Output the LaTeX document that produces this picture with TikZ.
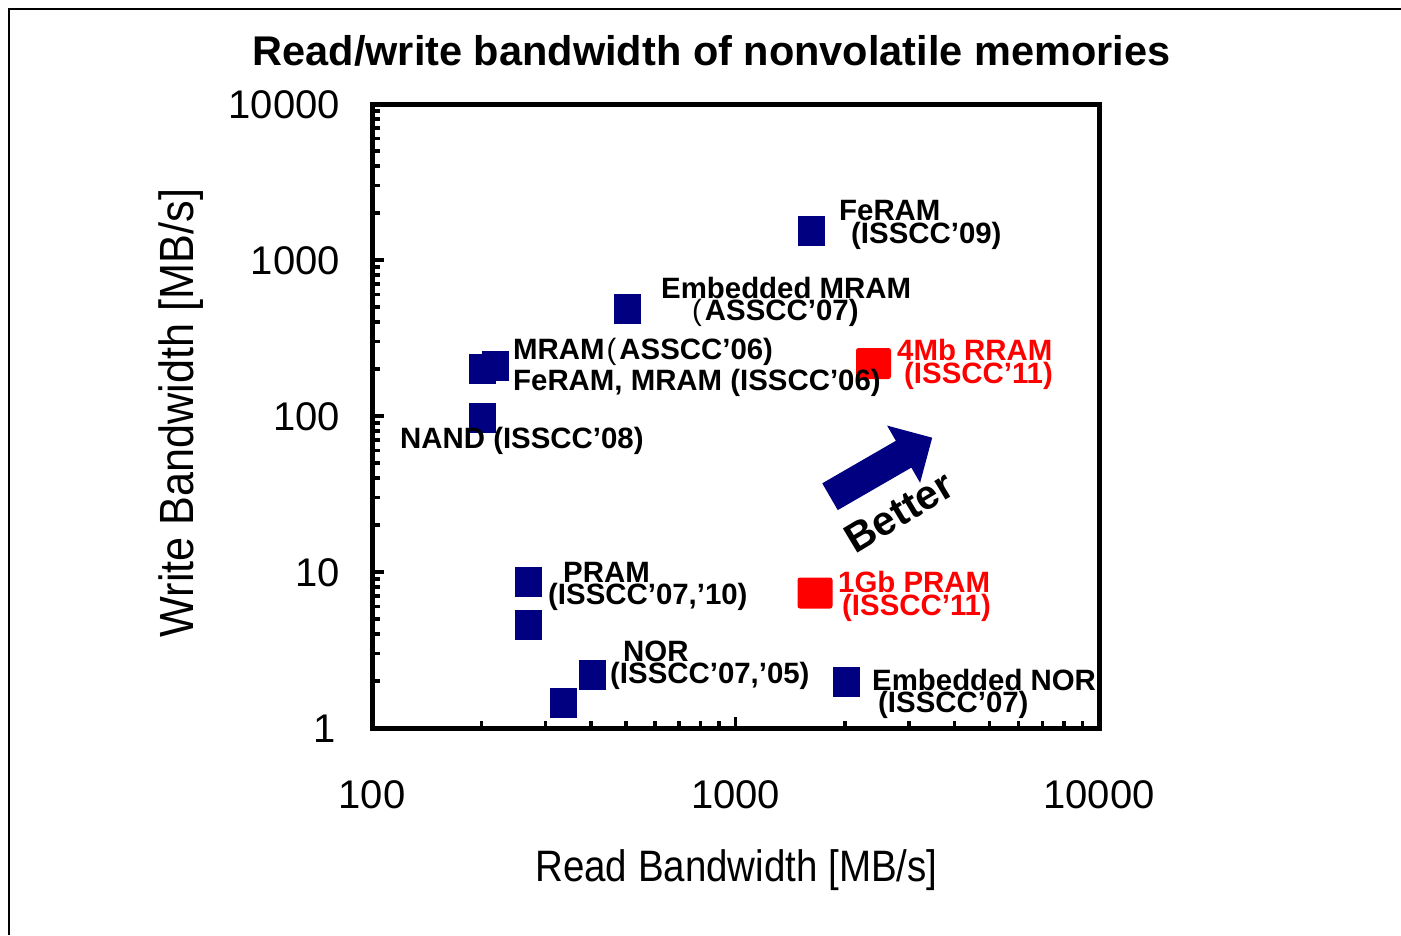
\documentclass[tikz,border=0pt]{standalone}
\usepackage{fontspec}
\setmainfont{Liberation Sans}
\definecolor{navy}{RGB}{0,0,128}
\definecolor{redpt}{RGB}{255,0,0}
\tikzset{
  lbl/.style={anchor=base west, inner sep=0pt, font=\bfseries\fontsize{29.4}{29.4}\selectfont},
  redlbl/.style={lbl, text=redpt},
  sq/.style={fill=navy, minimum width=27pt, minimum height=30pt, inner sep=0pt, draw=none},
  rsq/.style={fill=redpt, minimum width=35pt, minimum height=31pt, inner sep=0pt, rounded corners=2.5pt},
  tk/.style={line width=3.5pt},
  ytl/.style={anchor=base east, inner sep=0pt, font=\fontsize{40}{40}\selectfont},
  xtl/.style={anchor=base, inner sep=0pt, font=\fontsize{40}{40}\selectfont},
}
\newcommand{\fwp}{{\mdseries\kern2pt(\kern3pt}}
\begin{document}
\begin{tikzpicture}[x=1pt,y=-1pt]
\useasboundingbox (0,0) rectangle (1401,935);
% outer frame (cut at right and bottom)
\draw[line width=2.3pt] (9.2,935) -- (9.2,9.2) -- (1401,9.2);
% title
\node[anchor=base, inner sep=0pt, font=\bfseries\fontsize{41.5}{41.5}\selectfont] (title) at (711.5,65) {Read/write bandwidth of nonvolatile memories};
% y minor ticks
\foreach \d in {0,1,2,3}{
  \foreach \m in {2,...,9}{
    \pgfmathsetmacro\yy{728-156*(\d+log10(\m))}
    \draw[tk] (372,\yy) -- (380,\yy);
  }
}
\foreach \yy in {572,416,260}{\draw[tk] (372,\yy) -- (384,\yy);}
% x minor ticks
\foreach \d in {0,1}{
  \foreach \m in {2,...,9}{
    \pgfmathsetmacro\xx{372+363.5*(\d+log10(\m))}
    \draw[tk] (\xx,728) -- (\xx,721);
  }
}
\draw[tk] (735.5,728) -- (735.5,717);
% plot box
\draw[line width=5pt] (372,104) rectangle (1099,728);
% tick labels
\node[ytl] (y4) at (340,118.5) {10000};
\node[ytl] (y3) at (340,274.5) {1000};
\node[ytl] (y2) at (340,430.5) {100};
\node[ytl] (y1) at (340,586.5) {10};
\node[ytl] (y0) at (336,742.5) {1};
\node[xtl] (x2) at (372,808) {100};
\node[xtl] (x3) at (735.5,808) {1000};
\node[xtl] (x4) at (1099,808) {10000};
% axis titles
\node[anchor=base, inner sep=0pt, font=\fontsize{44}{44}\selectfont] (xt) at (736.5,881) {\scalebox{0.875}[1]{Read Bandwidth [MB/s]}};
\node[anchor=base, inner sep=0pt, rotate=90, font=\fontsize{48}{48}\selectfont] (yt) at (193,413) {\scalebox{0.9}[1]{Write Bandwidth [MB/s]}};
% data squares
\node[sq] (p1) at (811.5,231) {};
\node[sq] (p2) at (627.5,309) {};
\node[sq] (p3) at (482.5,369) {};
\node[sq] (p4) at (495,366) {};
\node[sq] (p5) at (482.5,417.5) {};
\node[sq] (p6) at (528.5,582) {};
\node[sq] (p7) at (528.5,625) {};
\node[sq] (p8) at (592.5,675) {};
\node[sq] (p9) at (563.5,703) {};
\node[sq] (p10) at (846.5,681.5) {};
\node[rsq] (r1) at (873.5,363.5) {};
\node[rsq] (r2) at (815,593) {};
% better arrow
\fill[navy] (822.25,483.3) -- (895.85,440.8) -- (887.1,425.6) -- (932.2,437.7) -- (920.1,482.8) -- (911.35,467.6) -- (837.75,510.1) -- cycle;
\node[inner sep=0pt, rotate=31, font=\bfseries\fontsize{41}{41}\selectfont] (better) at (899,512) {Better};
% labels
\node[lbl] (l1a) at (839,220) {FeRAM};
\node[lbl] (l1b) at (851,243) {(ISSCC’09)};
\node[lbl] (l2a) at (661,298) {Embedded MRAM};
\node[lbl] (l2b) at (690,320) {\fwp ASSCC’07)};
\node[lbl] (l3) at (513,359) {MRAM\fwp ASSCC’06)};
\node[lbl] (l4) at (513,390) {FeRAM, MRAM (ISSCC’06)};
\node[lbl] (l5) at (400,448) {NAND (ISSCC’08)};
\node[lbl] (l6a) at (563,582) {PRAM};
\node[lbl] (l6b) at (548,604) {(ISSCC’07,’10)};
\node[lbl] (l7a) at (623,661) {NOR};
\node[lbl] (l7b) at (610,683) {(ISSCC’07,’05)};
\node[lbl] (l8a) at (872,690) {Embedded NOR};
\node[lbl] (l8b) at (878,712) {(ISSCC’07)};
\node[redlbl] (l9a) at (897,360) {4Mb RRAM};
\node[redlbl] (l9b) at (904,383) {(ISSCC’11)};
\node[redlbl] (l10a) at (838,592) {1Gb PRAM};
\node[redlbl] (l10b) at (842,615) {(ISSCC’11)};
\end{tikzpicture}
\end{document}
